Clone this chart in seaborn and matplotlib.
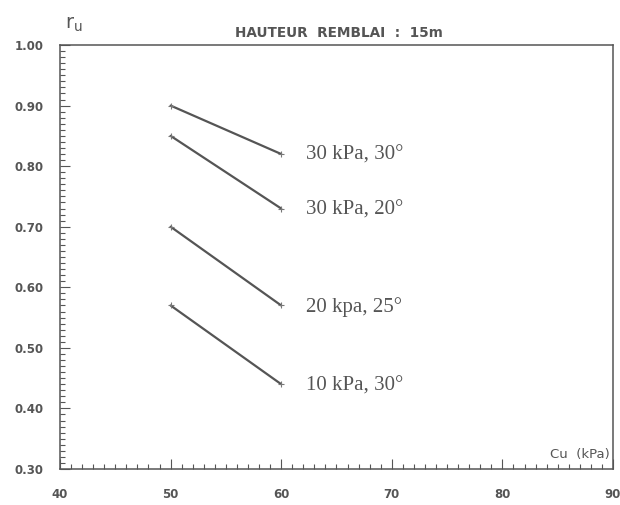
import matplotlib
matplotlib.use("Agg")
import matplotlib.pyplot as plt
from matplotlib.ticker import MultipleLocator
import numpy as np
import pandas as pd
import seaborn as sns

# Undrained cohesion Cu (kPa) and pore pressure ratio r_u for each case
cu = [50, 60]
case_labels = ["30 kPa, 30°", "30 kPa, 20°", "20 kpa, 25°", "10 kPa, 30°"]
ru_30kpa_30 = [0.90, 0.82]
ru_30kpa_20 = [0.85, 0.73]
ru_20kpa_25 = [0.70, 0.57]
ru_10kpa_30 = [0.57, 0.44]

x_ticks = [40, 50, 60, 70, 80, 90]
y_ticks = [0.30, 0.40, 0.50, 0.60, 0.70, 0.80, 0.90, 1.00]

series = [ru_30kpa_30, ru_30kpa_20, ru_20kpa_25, ru_10kpa_30]
df = pd.DataFrame({
    "Cu": cu * len(series),
    "ru": [v for s in series for v in s],
    "case": [lab for lab in case_labels for _ in cu],
})

sns.set_theme(style="white")
plt.rcParams["font.family"] = ["DejaVu Sans"]

ink = "#555555"
fig = plt.figure(figsize=(6.2, 5.05), dpi=100)
ax = fig.add_axes([60 / 620, 1 - 469 / 505, 553 / 620, 424 / 505])

sns.lineplot(data=df, x="Cu", y="ru", hue="case", units="case", estimator=None,
             palette=[ink] * len(series), linewidth=1.6, marker="+",
             markersize=4.5, markeredgewidth=0.8, markeredgecolor="#777777",
             legend=False, ax=ax)

for lab, s in zip(case_labels, series):
    ax.annotate(lab, xy=(cu[-1], s[-1]), xytext=(18, -1), textcoords="offset points",
                va="center", ha="left", fontsize=15, color=ink,
                family=["Liberation Serif", "DejaVu Serif"])

ax.set_xlim(40, 90)
ax.set_ylim(0.30, 1.00)
ax.set_xticks(x_ticks)
ax.set_yticks(y_ticks)
ax.set_xticklabels([str(t) for t in x_ticks])
ax.set_yticklabels([f"{t:.2f}" for t in y_ticks])
ax.xaxis.set_minor_locator(MultipleLocator(1))
ax.yaxis.set_minor_locator(MultipleLocator(0.01))

ax.tick_params(axis="both", which="both", direction="in", colors=ink,
               labelcolor=ink, width=0.8, bottom=True, left=True,
               top=False, right=False)
ax.tick_params(axis="both", which="major", length=7.5, labelsize=8.5)
ax.tick_params(axis="both", which="minor", length=3.5)
ax.tick_params(axis="x", which="major", pad=14)
ax.tick_params(axis="y", which="major", pad=12)
for lbl in ax.get_xticklabels() + ax.get_yticklabels():
    lbl.set_fontweight("bold")

for sp in ax.spines.values():
    sp.set_color(ink)
    sp.set_linewidth(1.1)

ax.set_xlabel("")
ax.set_ylabel("")
ax.text(0.995, 0.02, "Cu  (kPa)", transform=ax.transAxes, ha="right", va="bottom",
        fontsize=9.5, color=ink)
ax.text(0.505, 1.012, "HAUTEUR  REMBLAI  :  15m", transform=ax.transAxes, ha="center",
        va="bottom", fontsize=9.8, fontweight="bold", color=ink)
fig.text(65 / 620, 1 - 25 / 505, r"$\mathregular{r_u}$", fontsize=14, color=ink,
         ha="left", va="center")

fig.savefig("out.png", dpi=100, facecolor="white")
